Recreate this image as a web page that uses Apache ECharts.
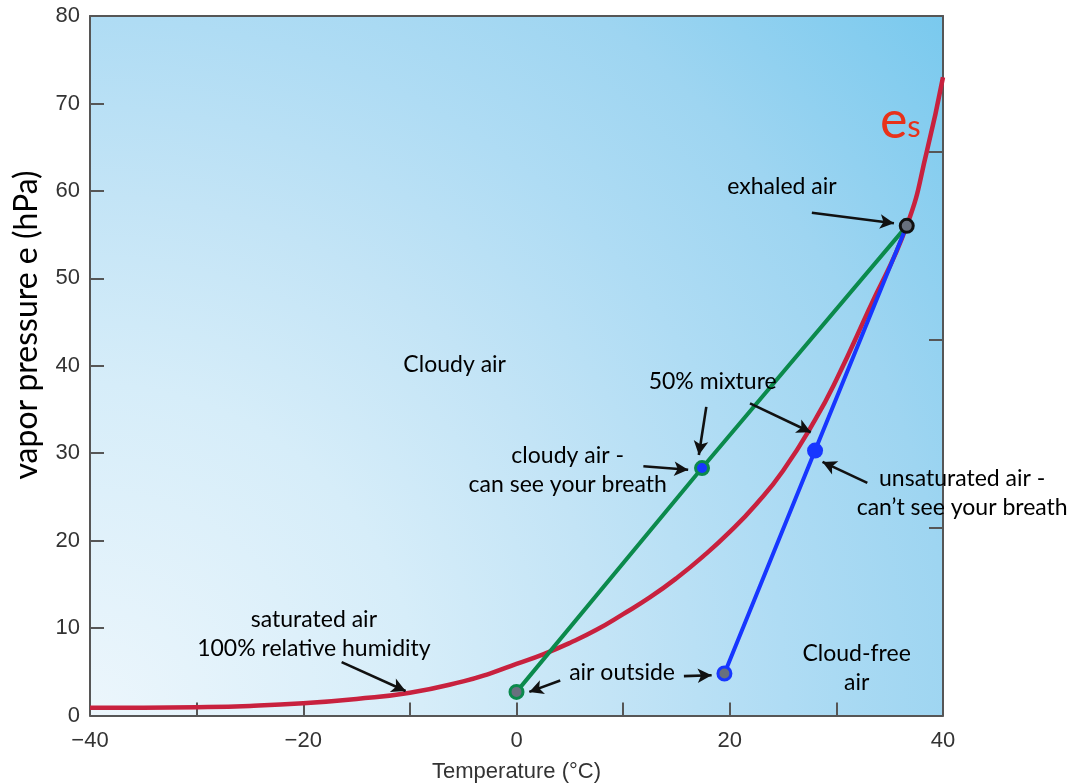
<!DOCTYPE html>
<html><head><meta charset="utf-8">
<script src="https://cdn.jsdelivr.net/npm/echarts@6/dist/echarts.min.js"></script>
<style>html,body{margin:0;padding:0;background:#fff}#c{width:1078px;height:784px}</style>
</head><body><div id="c"></div>
<script>
// Saturation vapour pressure curve
const satTemps = [-40, -35, -30, -25, -20, -15, -10, -5, -2.5, 0, 2.5, 5, 7.5, 10, 12.5, 15, 17.5, 20, 22.5, 25, 28, 30, 33, 36.6, 38.5, 40];
const satVapor = [0.9, 0.9, 0.95, 1.1, 1.4, 1.9, 2.6, 3.9, 4.8, 5.9, 7.0, 8.3, 9.8, 11.6, 13.5, 15.7, 18.2, 21.0, 24.2, 28.0, 33.8, 38.4, 46.3, 56.0, 64.6, 73.0];
// Mixing lines
const cloudyMixT = [0, 17.4, 36.6];
const cloudyMixE = [2.7, 28.3, 56.0];
const clearMixT = [19.5, 28.0, 36.6];
const clearMixE = [4.8, 30.3, 56.0];
// Axis ticks
const xTickValues = [-40, -30, -20, -10, 0, 10, 20, 30, 40];
const xTickLabels = ['\u221240', '', '\u221220', '', '0', '', '20', '', '40'];
const yTickLabels = ['0', '10', '20', '30', '40', '50', '60', '70', '80'];
// Annotation texts and their anchor points (data coordinates)
const noteTexts = ['exhaled air', '50% mixture', 'cloudy air -\ncan see your breath', 'unsaturated air -\ncan\u2019t see your breath', 'Cloudy air', 'saturated air\n100% relative humidity', 'air outside', 'Cloud-free\nair'];
const noteT = [24.9, 18.4, 4.8, 41.8, -5.8, -19.0, 9.9, 31.9];
const noteE = [60.5, 38.2, 28.1, 25.4, 40.1, 9.3, 4.9, 5.4];
// Arrows: from -> to (data coordinates)
const arrowFromT = [27.7, 17.8, 21.9, 11.9, 32.9, -16.4, 4.1, 15.7];
const arrowFromE = [57.5, 35.3, 35.7, 28.5, 26.6, 6.1, 4.0, 4.5];
const arrowToT = [35.4, 17.1, 27.6, 16.1, 28.7, -10.4, 1.2, 18.3];
const arrowToE = [56.3, 29.8, 32.4, 28.1, 29.0, 2.8, 2.7, 4.6];
// Curve label
const esLabelT = [36.0];
const esLabelE = [68.0];

const GREEN = '#0b8a4c', BLUE = '#1736ff', RED = '#c8213e', GRAY = '#68707e', INK = '#000';
const annoFont = 'Lato, "Open Sans", sans-serif';
const axisFont = '"Liberation Sans", Arial, sans-serif';

const pointStyles = [
  { color: GRAY, borderColor: GREEN, borderWidth: 3, opacity: 1 },
  { color: BLUE, borderColor: GREEN, borderWidth: 3, opacity: 1 },
  { color: GRAY, borderColor: BLUE, borderWidth: 3, opacity: 1 },
  { color: BLUE, borderColor: BLUE, borderWidth: 0, opacity: 1 },
  { color: GRAY, borderColor: '#111', borderWidth: 3, opacity: 1 }
];
const pointSizes = [13, 13, 13, 16, 13];
const pointsT = [cloudyMixT[0], cloudyMixT[1], clearMixT[0], clearMixT[1], cloudyMixT[2]];
const pointsE = [cloudyMixE[0], cloudyMixE[1], clearMixE[0], clearMixE[1], cloudyMixE[2]];

const chart = echarts.init(document.getElementById('c'));
const axisLineStyle = { color: '#565656', width: 2 };
chart.setOption({
  animation: false,
  grid: {
    left: 90, right: 135, top: 16, bottom: 68.5, show: true, borderWidth: 0,
    containLabel: false, outerBoundsMode: 'none',
    backgroundColor: {
      type: 'radial', x: 0, y: 1, r: 1.58,
      colorStops: [
        { offset: 0, color: '#ecf6fc' },
        { offset: 0.3, color: '#d6edf9' },
        { offset: 0.47, color: '#c3e4f6' },
        { offset: 0.63, color: '#afdcf4' },
        { offset: 0.78, color: '#9ed5f1' },
        { offset: 1, color: '#79c9ee' }
      ]
    }
  },
  xAxis: [{
    type: 'value', min: -40, max: 40, interval: 10,
    name: 'Temperature (\u00b0C)', nameLocation: 'middle', nameGap: 45,
    nameTextStyle: { fontFamily: axisFont, fontSize: 22, color: '#333' },
    axisLine: { onZero: false, lineStyle: axisLineStyle },
    axisTick: { inside: true, length: 13, lineStyle: axisLineStyle },
    axisLabel: { fontFamily: axisFont, fontSize: 22, color: '#333', margin: 14,
      formatter: v => xTickLabels[xTickValues.indexOf(v)] },
    splitLine: { show: false }
  }, {
    type: 'value', min: -40, max: 40, position: 'top',
    axisLine: { show: true, onZero: false, lineStyle: axisLineStyle },
    axisTick: { show: false }, axisLabel: { show: false }, splitLine: { show: false }
  }],
  yAxis: [{
    type: 'value', min: 0, max: 80, interval: 10,
    axisLine: { show: true, onZero: false, lineStyle: axisLineStyle },
    axisTick: { show: true, inside: true, length: 14, lineStyle: axisLineStyle },
    axisLabel: { fontFamily: axisFont, fontSize: 22, color: '#333', margin: 10,
      formatter: v => yTickLabels[Math.round(v / 10)] },
    splitLine: { show: false }
  }, {
    type: 'value', min: 0, max: 80, interval: 21.5, position: 'right',
    axisLine: { show: true, onZero: false, lineStyle: axisLineStyle },
    axisTick: { show: true, inside: true, length: 14, lineStyle: axisLineStyle },
    axisLabel: { show: false }, splitLine: { show: false }
  }],
  graphic: [{
    type: 'text', x: 27, y: 325, rotation: Math.PI / 2,
    style: { text: 'vapor pressure e (hPa)', font: '32px ' + annoFont, fill: '#000',
      align: 'center', verticalAlign: 'middle' }
  }],
  series: [
    {
      type: 'line', smooth: 0.5, showSymbol: false, z: 2,
      data: satTemps.map((t, i) => [t, satVapor[i]]),
      lineStyle: { color: RED, width: 4.5 }
    },
    {
      type: 'line', showSymbol: false, z: 3,
      data: cloudyMixT.map((t, i) => [t, cloudyMixE[i]]),
      lineStyle: { color: GREEN, width: 4 }
    },
    {
      type: 'line', showSymbol: false, z: 3,
      data: clearMixT.map((t, i) => [t, clearMixE[i]]),
      lineStyle: { color: BLUE, width: 4 },
      markLine: {
        silent: true, symbol: ['none', 'arrow'], symbolSize: [11, 14], precision: 3,
        lineStyle: { color: '#111', width: 2.6, type: 'solid', opacity: 1 },
        label: { show: false },
        data: arrowFromT.map((t, i) => [{ coord: [t, arrowFromE[i]] }, { coord: [arrowToT[i], arrowToE[i]] }])
      }
    },
    {
      type: 'scatter', z: 5, itemStyle: { opacity: 1 },
      data: pointsT.map((t, i) => ({ value: [t, pointsE[i]], symbolSize: pointSizes[i], itemStyle: pointStyles[i] }))
    },
    {
      type: 'scatter', z: 6, symbolSize: 0, clip: false, silent: true, itemStyle: { opacity: 1 },
      data: noteT.map((t, i) => ({ value: [t, noteE[i]], name: noteTexts[i] })),
      label: { show: true, position: 'inside', formatter: p => p.name, align: 'center', opacity: 1,
        verticalAlign: 'middle', fontFamily: annoFont, fontSize: 23, lineHeight: 29, color: INK,
        textBorderWidth: 0, textShadowBlur: 0 }
    },
    {
      type: 'scatter', z: 6, symbolSize: 0, clip: false, silent: true, itemStyle: { opacity: 1 },
      data: esLabelT.map((t, i) => [t, esLabelE[i]]),
      label: { show: true, position: 'inside', formatter: '{e|e}{s|s}', textBorderWidth: 0, opacity: 1,
        rich: {
          e: { fontFamily: annoFont, fontSize: 52, color: '#e8321a', textBorderWidth: 0, verticalAlign: 'bottom' },
          s: { fontFamily: annoFont, fontSize: 31, color: '#e8321a', textBorderWidth: 0, verticalAlign: 'bottom', padding: [0, 0, 4, 0] }
        } }
    }
  ]
});
</script></body></html>
